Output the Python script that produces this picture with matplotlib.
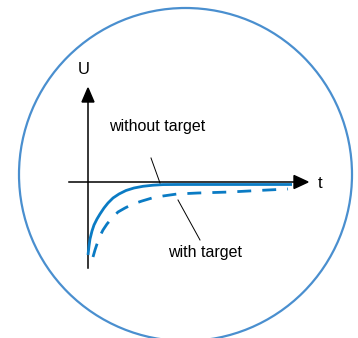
import matplotlib
matplotlib.use('Agg')
import matplotlib.pyplot as plt
from matplotlib.patches import Circle, Polygon

plt.rcParams['font.family'] = ['Liberation Sans', 'DejaVu Sans']

# curve values (t, U)
solid_t = [0, 1, 2, 4, 6, 9, 12, 16, 20, 25, 31, 38, 46, 55, 65, 75, 90, 204]
solid_u = [-73, -64, -57, -49, -43, -37, -32, -26, -21, -16, -12, -8.5, -6, -4.3,
           -3.2, -2.6, -2.5, -2.5]

dashed_t = [5, 7, 9, 12, 15, 19, 24, 30, 37, 45, 54, 64, 75, 89, 110, 142, 170, 200]
dashed_u = [-75, -68, -62, -54, -48, -42, -36, -30, -26, -22, -19, -16, -14, -12,
            -11, -10, -8.5, -7]

labels = ['without target', 'with target']
label_pos = [(21, 55), (80, -71)]
leader_lines = [((63, 24), (72, -1)), ((90, -18), (112, -58))]

curve_color = '#0a7bc4'
circle_color = '#4a8fcf'

fig = plt.figure(figsize=(3.58, 3.38), dpi=100)
ax = fig.add_axes([0, 0, 1, 1])
ax.set_xlim(-88, 270)
ax.set_ylim(-156, 182)
ax.axis('off')

# outer circle
ax.add_patch(Circle((97.5, 7.5), 166.5, fill=False, edgecolor=circle_color, lw=1.6))

# axes with arrows
ax.plot([0, 0], [-86, 80], color='black', lw=1.1)
ax.add_patch(Polygon([(-6, 80), (6, 80), (0, 94)], closed=True, color='black'))
ax.plot([-19, 206], [0, 0], color='black', lw=1.1)
ax.add_patch(Polygon([(206, 6.5), (206, -6.5), (220, 0)], closed=True, color='black'))
ax.text(-4, 112, 'U', fontsize=12, ha='center', va='center')
ax.text(232, -1, 't', fontsize=12, ha='center', va='center')

# curves
ax.plot(solid_t, solid_u, color=curve_color, lw=2.0, solid_capstyle='butt')
ax.plot(dashed_t, dashed_u, color=curve_color, lw=2.0, dashes=(5, 4))

# labels with leader lines
for lab, (x, y), (p0, p1) in zip(labels, label_pos, leader_lines):
    ax.text(x, y, lab, fontsize=11.5, ha='left', va='center')
    ax.plot([p0[0], p1[0]], [p0[1], p1[1]], color='black', lw=0.7)

fig.savefig('out.png', dpi=100)
